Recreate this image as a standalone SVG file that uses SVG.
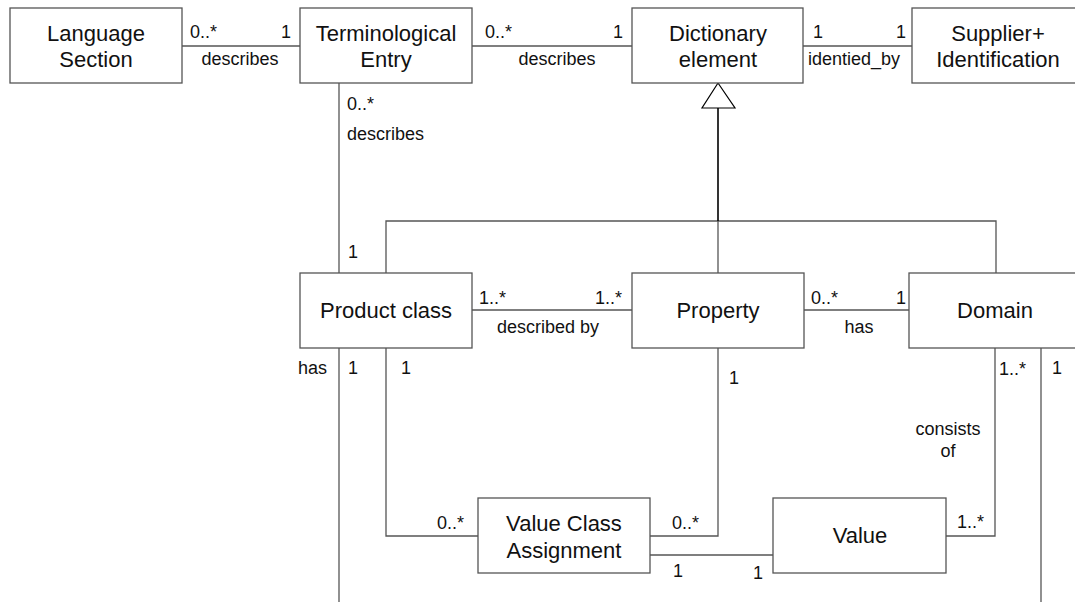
<svg xmlns="http://www.w3.org/2000/svg" width="1075" height="602" viewBox="0 0 1075 602">
<style>
.box{fill:#fff;stroke:#555;stroke-width:1.3}
.ln{fill:none;stroke:#555;stroke-width:1.3}
.inh{fill:none;stroke:#000;stroke-width:1.6}
.tri{fill:#fff;stroke:#000;stroke-width:1.2}
.t{font-family:"Liberation Sans",Arial,sans-serif;font-size:22px;fill:#111;text-anchor:middle}
.l{font-family:"Liberation Sans",Arial,sans-serif;font-size:18px;fill:#111}
.c{text-anchor:middle}
.e{text-anchor:end}
</style>
<rect width="1075" height="602" fill="#fff"/>
<g id="connectors">
<line class="ln" x1="182" y1="46" x2="300" y2="46"/>
<line class="ln" x1="472" y1="46" x2="632" y2="46"/>
<line class="ln" x1="803" y1="46" x2="912" y2="46"/>
<line class="ln" x1="339" y1="83" x2="339" y2="273"/>
<line class="ln" x1="472" y1="310" x2="632" y2="310"/>
<line class="ln" x1="804" y1="310" x2="909" y2="310"/>
<line class="ln" x1="339" y1="348" x2="339" y2="602"/>
<polyline class="ln" points="386,348 386,536 478,536"/>
<polyline class="ln" points="718,348 718,536 650,536"/>
<line class="ln" x1="650" y1="555" x2="773" y2="555"/>
<polyline class="ln" points="946,536 995,536 995,348"/>
<line class="ln" x1="1041" y1="348" x2="1041" y2="602"/>
<polyline class="ln" points="386,273 386,221 996,221 996,273"/>
<line class="ln" x1="718" y1="221" x2="718" y2="273"/>
<line class="inh" x1="718" y1="108" x2="718" y2="221"/>
<polygon class="tri" points="718,83 702,108 735,108"/>
<text class="l" x="190" y="38">0..*</text>
<text class="l" x="281" y="38">1</text>
<text class="l c" x="240" y="65">describes</text>
<text class="l" x="485" y="38">0..*</text>
<text class="l" x="613" y="38">1</text>
<text class="l c" x="557" y="65">describes</text>
<text class="l" x="813" y="38">1</text>
<text class="l" x="896" y="38">1</text>
<text class="l c" x="854" y="65">identied_by</text>
<text class="l" x="347" y="110">0..*</text>
<text class="l" x="347" y="140">describes</text>
<text class="l" x="348" y="258">1</text>
<text class="l" x="479" y="304">1..*</text>
<text class="l" x="595" y="304">1..*</text>
<text class="l c" x="548" y="333">described by</text>
<text class="l" x="811" y="304">0..*</text>
<text class="l" x="896" y="304">1</text>
<text class="l c" x="859" y="333">has</text>
<text class="l e" x="327" y="374">has</text>
<text class="l" x="348" y="374">1</text>
<text class="l" x="401" y="374">1</text>
<text class="l" x="729" y="384">1</text>
<text class="l" x="999" y="375">1..*</text>
<text class="l" x="1052" y="374">1</text>
<text class="l c" x="948" y="435">consists</text>
<text class="l c" x="948" y="457">of</text>
<text class="l" x="437" y="529">0..*</text>
<text class="l" x="672" y="529">0..*</text>
<text class="l" x="957" y="528">1..*</text>
<text class="l" x="673" y="577">1</text>
<text class="l" x="753" y="579">1</text>
</g>
<g id="language-section">
<rect class="box" x="10" y="8" width="172" height="75"/>
<text class="t" x="96" y="41">Language</text>
<text class="t" x="96" y="67">Section</text>
</g>
<g id="terminological-entry">
<rect class="box" x="300" y="8" width="172" height="75"/>
<text class="t" x="386" y="41">Terminological</text>
<text class="t" x="386" y="67">Entry</text>
</g>
<g id="dictionary-element">
<rect class="box" x="632" y="8" width="171" height="75"/>
<text class="t" x="718" y="41">Dictionary</text>
<text class="t" x="718" y="67">element</text>
</g>
<g id="supplier-identification">
<rect class="box" x="912" y="8" width="172" height="75"/>
<text class="t" x="998" y="41">Supplier+</text>
<text class="t" x="998" y="67">Identification</text>
</g>
<g id="product-class">
<rect class="box" x="300" y="273" width="172" height="75"/>
<text class="t" x="386" y="318">Product class</text>
</g>
<g id="property">
<rect class="box" x="632" y="273" width="172" height="75"/>
<text class="t" x="718" y="318">Property</text>
</g>
<g id="domain">
<rect class="box" x="909" y="273" width="172" height="75"/>
<text class="t" x="995" y="318">Domain</text>
</g>
<g id="value-class-assignment">
<rect class="box" x="478" y="498" width="172" height="75"/>
<text class="t" x="564" y="531">Value Class</text>
<text class="t" x="564" y="558">Assignment</text>
</g>
<g id="value">
<rect class="box" x="773" y="498" width="173" height="75"/>
<text class="t" x="860" y="543">Value</text>
</g>
</svg>
